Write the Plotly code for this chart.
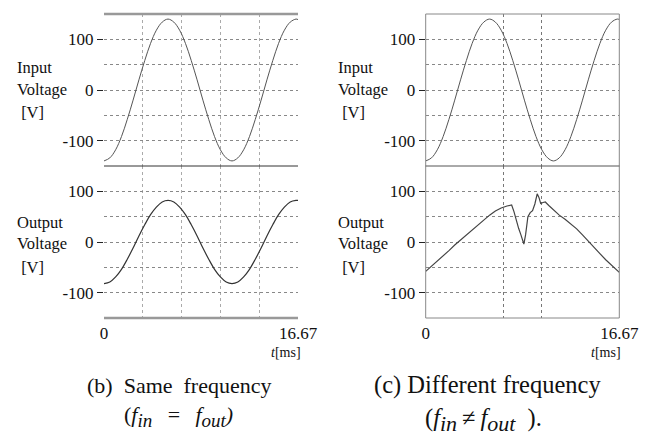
import plotly.graph_objects as go

# ---------------- data ----------------
t_ms = [0, 0.5, 1.0, 1.5, 2.0, 2.5, 3.0, 3.5, 4.0, 4.5, 5.0, 5.5, 6.0, 6.5, 7.0, 7.5,
        8.0, 8.5, 9.0, 9.5, 10.0, 10.5, 11.0, 11.5, 12.0, 12.5, 13.0, 13.5, 14.0,
        14.5, 15.0, 15.5, 16.0, 16.5, 16.67]

input_b = [-140, -134, -118, -92, -58, -20, 20, 58, 92, 118, 134, 140, 134, 118, 92, 58,
           20, -20, -58, -92, -118, -134, -140, -134, -118, -92, -58, -20, 20,
           58, 92, 118, 134, 140, 139]

output_b = [-82, -79, -69, -54, -34, -12, 12, 34, 54, 69, 79, 82, 79, 69, 54, 34,
            12, -12, -34, -54, -69, -79, -82, -79, -69, -54, -34, -12, 12,
            34, 54, 69, 79, 82, 82]

input_c = input_b[:]

t_out_c = [0, 0.5, 1.0, 1.5, 2.0, 2.5, 3.0, 3.5, 4.0, 4.5, 5.0, 5.5, 6.0, 6.5, 7.0, 7.4,
           7.6, 7.8, 8.0, 8.2, 8.45, 8.6, 8.8, 9.0, 9.2, 9.4, 9.6, 9.75, 9.9, 10.1,
           10.3, 10.6, 11.0, 11.5, 12.0, 12.5, 13.0, 13.5, 14.0, 14.5, 15.0, 15.5,
           16.0, 16.67]
output_c = [-58, -48, -38, -28, -17, -6, 4, 14, 24, 34, 44, 53, 61, 67, 71, 73,
            60, 42, 27, 14, -4, 14, 50, 58, 62, 75, 95, 88, 76, 78,
            79, 72, 64, 53, 45, 36, 26, 14, 1, -11, -23, -35,
            -46, -60]

y_tick_vals = [-100, 0, 100]
y_tick_text = ["-100", "0", "100"]
x_tick_vals = [0, 16.67]
x_tick_text = ["0", "16.67"]
grid_b = [3.334, 6.667, 10.0, 13.334]
grid_c = [6.667, 10.0]

W, H = 647, 435
FONT = "Liberation Serif, DejaVu Serif, Times New Roman, serif"

xl = [104 / W, 298 / W]
xr = [425.7 / W, 619.3 / W]
yt = [(H - 166) / H, (H - 14) / H]
yb = [(H - 318) / H, (H - 166) / H]

fig = go.Figure()
fig.add_trace(go.Scatter(x=t_ms, y=input_b, mode="lines", line=dict(color="#555", width=1, shape="spline"),
                         xaxis="x", yaxis="y", showlegend=False))
fig.add_trace(go.Scatter(x=t_ms, y=output_b, mode="lines", line=dict(color="#333", width=1.2, shape="spline"),
                         xaxis="x2", yaxis="y2", showlegend=False))
fig.add_trace(go.Scatter(x=t_ms, y=input_c, mode="lines", line=dict(color="#555", width=1, shape="spline"),
                         xaxis="x3", yaxis="y3", showlegend=False))
fig.add_trace(go.Scatter(x=t_out_c, y=output_c, mode="lines", line=dict(color="#444", width=1.2),
                         xaxis="x4", yaxis="y4", showlegend=False))


def xax(domain, anchor, grid, labels, gcolor):
    d = dict(domain=domain, anchor=anchor, range=[0, 16.67], showline=False, zeroline=False,
             tickvals=x_tick_vals, ticks="", showgrid=False, automargin=False,
             minor=dict(tickvals=grid, showgrid=True, gridcolor=gcolor, griddash="dot", gridwidth=1, ticks=""),
             tickfont=dict(family=FONT, size=17, color="#111"), fixedrange=True)
    if labels:
        d["ticktext"] = x_tick_text
        d["ticklabelstandoff"] = 3
    else:
        d["showticklabels"] = False
    return d


def yax(domain, anchor):
    return dict(domain=domain, anchor=anchor, range=[-150, 150], showline=False, zeroline=False,
                tickvals=y_tick_vals, ticktext=y_tick_text, ticks="outside", ticklen=6, automargin=False,
                tickcolor="#222", tickwidth=1, showgrid=True, gridcolor="#888", griddash="dot",
                minor=dict(dtick=50, tick0=0, showgrid=True, gridcolor="#888", griddash="dot", ticks=""),
                tickfont=dict(family=FONT, size=17, color="#111"), fixedrange=True)


fig.update_layout(
    width=W, height=H, autosize=False, margin=dict(l=0, r=0, t=0, b=0, pad=0),
    paper_bgcolor="white", plot_bgcolor="white",
    xaxis=xax(xl, "y", grid_b, False, "#aaa"),
    yaxis=yax(yt, "x"),
    xaxis2=xax(xl, "y2", grid_b, True, "#aaa"),
    yaxis2=yax(yb, "x2"),
    xaxis3=xax(xr, "y3", grid_c, False, "#777"),
    yaxis3=yax(yt, "x3"),
    xaxis4=xax(xr, "y4", grid_c, True, "#777"),
    yaxis4=yax(yb, "x4"),
)

shapes = []
# left panel: gray thick top/bottom, dark middle line
shapes.append(dict(type="line", xref="x domain", yref="y domain", x0=0, x1=1, y0=1, y1=1,
                   line=dict(color="#999", width=2.5)))
shapes.append(dict(type="line", xref="x domain", yref="y domain", x0=0, x1=1, y0=0, y1=0,
                   line=dict(color="#333", width=1)))
shapes.append(dict(type="line", xref="x2 domain", yref="y2 domain", x0=0, x1=1, y0=0, y1=0,
                   line=dict(color="#999", width=2.5)))
# right panel: thin box spanning both plots, thin middle line
shapes.append(dict(type="rect", xref="x3 domain", yref="paper", x0=0, x1=1, y0=yb[0], y1=yt[1],
                   line=dict(color="#888", width=1)))
shapes.append(dict(type="line", xref="x3 domain", yref="y3 domain", x0=0, x1=1, y0=0, y1=0,
                   line=dict(color="#555", width=1)))
fig.update_layout(shapes=shapes)

ann = []


def label(lines, x0, ys, size=16.5):
    for txt, yy in zip(lines, ys):
        ann.append(dict(text=txt, x=x0 / W, y=1 - yy / H, xref="paper", yref="paper",
                        xanchor="left", yanchor="middle", showarrow=False,
                        font=dict(family=FONT, size=size, color="#111")))


label(["Input", "Voltage", "\u00a0[V]"], 15, [68, 90, 113])
label(["Output", "Voltage", "\u00a0[V]"], 15, [222, 243, 267])
label(["Input", "Voltage", "\u00a0[V]"], 336, [68, 90, 113])
label(["Output", "Voltage", "\u00a0[V]"], 336, [222, 243, 267])

for xr_edge in (303, 623):
    ann.append(dict(text="<i>t</i>[ms]", x=xr_edge / W, y=1 - 352 / H, xref="paper", yref="paper",
                    xanchor="right", yanchor="middle", showarrow=False,
                    font=dict(family=FONT, size=14, color="#111")))


def cap(text, xc, yc, size):
    ann.append(dict(text=text, x=xc / W, y=1 - yc / H, xref="paper", yref="paper",
                    xanchor="center", yanchor="middle", showarrow=False,
                    font=dict(family=FONT, size=size, color="#111")))


def sub(s, px):
    return '<sub><span style="font-size:%dpx">%s</span></sub>' % (px, s)


SP = "\u2002\u2009"
cap("(b)\u00a0\u00a0Same\u00a0\u00a0frequency", 179, 385, 22)
cap("(<i>f" + sub("in", 19) + "</i>" + SP + "=" + SP + "<i>f" + sub("out", 19) + ")</i>", 178, 416, 22)
cap("(c) Different frequency", 487, 385, 24.5)
cap("(<i>f" + sub("in", 22) + "</i>\u2009\u2260\u2009<i>f" + sub("out", 22) + "</i>\u2002).",
    483, 420, 24.5)
fig.update_layout(annotations=ann)

fig.write_html("out.html", config={"responsive": False})
